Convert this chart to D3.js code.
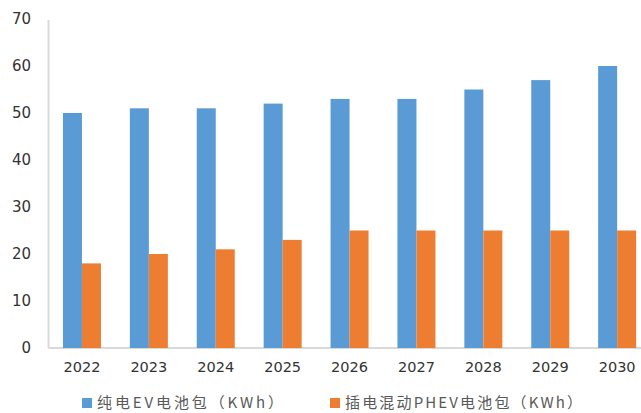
<!DOCTYPE html>
<html><head><meta charset="utf-8">
<script src="https://cdn.jsdelivr.net/npm/d3@7"></script>
<style>body{margin:0;background:#fff}svg{display:block}</style>
</head><body>
<svg id="c" width="641" height="413"></svg>
<script>
const years = ["2022","2023","2024","2025","2026","2027","2028","2029","2030"];
const evValues = [50,51,51,52,53,53,55,57,60];
const phevValues = [18,20,21,23,25,25,25,25,25];
const seriesNames = ["纯电EV电池包（KWh）","插电混动PHEV电池包（KWh）"];
const yTicks = [0,10,20,30,40,50,60,70];

const svg = d3.select("#c");
const x = d3.scaleBand().domain(years).range([48.5, 650.6]).padding(0);
const y = d3.scaleLinear().domain([0,70]).range([348, 19]);
const barW = 19;
const colors = ["#5B9BD5","#ED7D31"];

// axis lines
svg.append("line").attr("x1",48.5).attr("x2",48.5).attr("y1",y(70)+1).attr("y2",y(0))
  .attr("stroke","#d9d9d9").attr("stroke-width",2);
svg.append("line").attr("x1",48.5).attr("x2",641).attr("y1",y(0)).attr("y2",y(0))
  .attr("stroke","#d9d9d9").attr("stroke-width",2);

// bars
[evValues, phevValues].forEach((vals, si) => {
  svg.append("g").selectAll("rect").data(vals).join("rect")
    .attr("x",(d,i)=>x(years[i]) + x.bandwidth()/2 - barW + si*barW)
    .attr("width",barW)
    .attr("y",d=>y(d))
    .attr("height",d=>y(0)-y(d))
    .attr("fill",colors[si]);
});

// y tick labels
svg.append("g").selectAll("text").data(yTicks).join("text")
  .attr("x",31).attr("y",d=>y(d)).attr("dy","0.35em")
  .attr("text-anchor","end")
  .attr("font-family","DejaVu Sans, Verdana, sans-serif")
  .attr("font-size",15).attr("fill","#333")
  .text(d=>d);

// x labels
svg.append("g").selectAll("text").data(years).join("text")
  .attr("x",d=>x(d)+x.bandwidth()/2).attr("y",367).attr("dy","0.35em")
  .attr("text-anchor","middle")
  .attr("font-family","DejaVu Sans, Verdana, sans-serif")
  .attr("font-size",14.5).attr("fill","#333")
  .text(d=>d);

// legend
const legX = [82, 330];
const legLen = [186, 237];
seriesNames.forEach((n,i)=>{
  svg.append("rect").attr("x",legX[i]).attr("y",398).attr("width",10).attr("height",10).attr("fill",colors[i]);
  svg.append("text").attr("x",legX[i]+15).attr("y",403).attr("dy","0.35em")
    .attr("font-family","Noto Sans CJK SC, sans-serif").attr("font-size",15).attr("fill","#595959")
    .attr("textLength",legLen[i]).attr("lengthAdjust","spacing")
    .text(n);
});
</script>
</body></html>
